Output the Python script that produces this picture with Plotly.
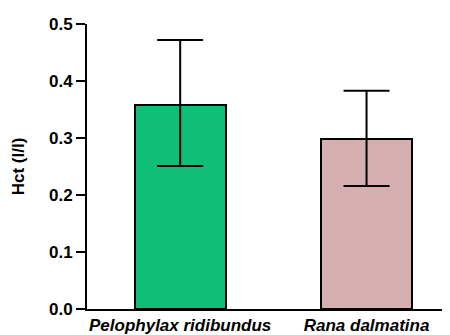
import plotly.graph_objects as go

species = ["Pelophylax ridibundus", "Rana dalmatina"]
hct_mean = [0.358, 0.298]
err_plus = [0.114, 0.085]
err_minus = [0.107, 0.082]
bar_colors = ["#0FBF77", "#D5AFAF"]
y_ticks = [0.0, 0.1, 0.2, 0.3, 0.4, 0.5]

fig = go.Figure()
fig.add_trace(go.Bar(
    x=[0, 1],
    y=hct_mean,
    width=0.49,
    marker=dict(color=bar_colors, line=dict(color="black", width=2)),
    error_y=dict(type="data", symmetric=False, array=err_plus, arrayminus=err_minus,
                 color="black", thickness=2, width=23),
))

fig.update_layout(
    width=450, height=335,
    margin=dict(l=79, r=2, t=16, b=34),
    paper_bgcolor="white", plot_bgcolor="white",
    showlegend=False,
    font=dict(family="Liberation Sans, Arial, sans-serif", color="black"),
    bargap=0,
)
fig.update_xaxes(
    range=[-0.5, 1.48],
    tickmode="array", tickvals=[0, 1], ticktext=species,
    tickfont=dict(size=17, weight="bold", style="italic"),
    showline=True, linecolor="black", linewidth=2,
    ticks="", showgrid=False, zeroline=False,
)
fig.update_yaxes(
    range=[0, 0.5],
    tickmode="array", tickvals=y_ticks, ticktext=[f"{v:.1f}" for v in y_ticks],
    tickfont=dict(size=17, weight="bold"),
    showline=True, linecolor="black", linewidth=2,
    ticks="outside", ticklen=9, tickwidth=2, tickcolor="black",
    showgrid=False, zeroline=False,
    title=dict(text="Hct (l/l)", font=dict(size=17, weight="bold"), standoff=20),
)

fig.write_html("out.html")
